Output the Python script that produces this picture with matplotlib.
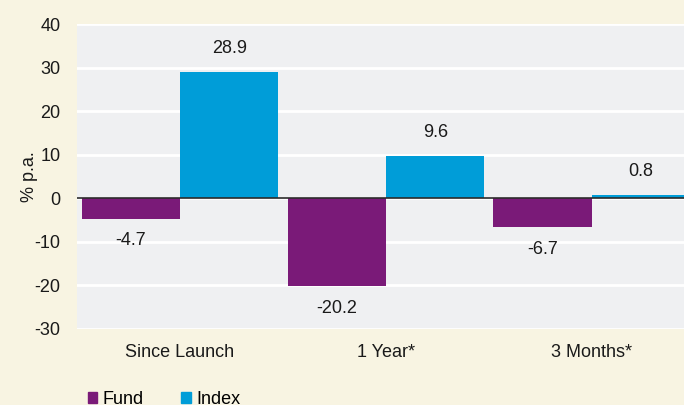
import numpy as np
import matplotlib.pyplot as plt
from matplotlib.patches import Patch

plt.rcParams.update({
    "font.family": ["Liberation Sans", "DejaVu Sans"],
    "font.size": 13,
    "axes.unicode_minus": False,
})

categories = ["Since Launch", "1 Year*", "3 Months*"]
fund = [-4.7, -20.2, -6.7]
index = [28.9, 9.6, 0.8]
yticks = [-30, -20, -10, 0, 10, 20, 30, 40]

BG = "#f8f4e2"
PLOT_BG = "#eff0f2"
PURPLE = "#7a1a78"
BLUE = "#009dd8"

fig = plt.figure(figsize=(6.84, 4.05), dpi=100, facecolor=BG)
ax = fig.add_axes([0.1126, 0.1877, 0.8874, 0.753])
ax.set_facecolor(PLOT_BG)

x = np.arange(len(categories))
w = 0.478
b1 = ax.bar(x - w / 2, fund, w, color=PURPLE, zorder=3)
b2 = ax.bar(x + w / 2, index, w, color=BLUE, zorder=3)

ax.axhline(0, color="#2b2b2b", linewidth=1.2, zorder=4)

for bar, v in zip(b1, fund):
    ax.annotate(f"{v:.1f}", (bar.get_x() + bar.get_width() / 2, v),
                xytext=(0, -16), textcoords="offset points",
                ha="center", va="center", color="#1a1a1a")
for bar, v in zip(b2, index):
    ax.annotate(f"{v:.1f}", (bar.get_x() + bar.get_width() / 2, v),
                xytext=(0, 17), textcoords="offset points",
                ha="center", va="center", color="#1a1a1a")

ax.set_ylim(-30, 40)
ax.set_xlim(-0.5, 2.447)
ax.set_yticks(yticks)
ax.set_xticks(x)
ax.set_xticklabels(categories)
ax.tick_params(length=0, pad=11, colors="#1a1a1a")
ax.tick_params(axis="y", pad=12)
ax.grid(axis="y", color="white", linewidth=2, zorder=1)
for s in ax.spines.values():
    s.set_visible(False)

ax.set_ylabel("% p.a.", labelpad=-2.5, color="#1a1a1a")

handles = [Patch(color=PURPLE, label="Fund"), Patch(color=BLUE, label="Index")]
fig.legend(handles=handles, loc="center left", bbox_to_anchor=(0.128, 0.013),
           ncol=2, frameon=False, handlelength=0.55, handleheight=0.55,
           handletextpad=0.3, columnspacing=2.05, borderpad=0, borderaxespad=0)

fig.savefig("out.png", dpi=100, facecolor=BG)
